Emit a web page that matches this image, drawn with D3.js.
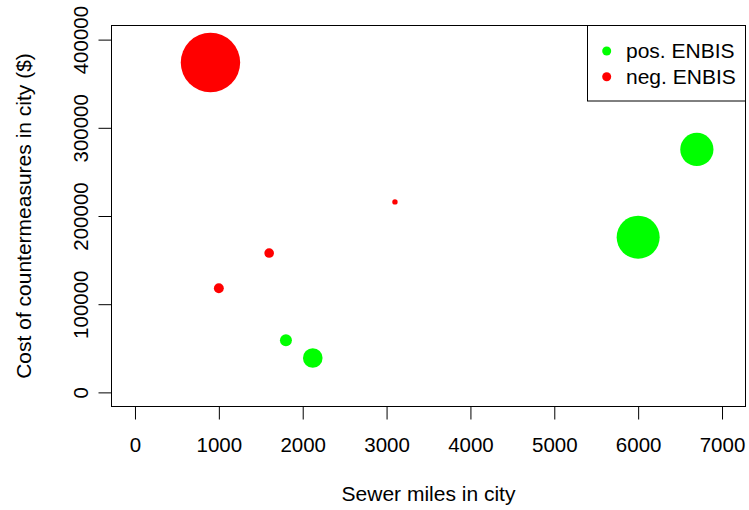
<!DOCTYPE html>
<html>
<head>
<meta charset="utf-8">
<script src="https://cdn.jsdelivr.net/npm/d3@7"></script>
<style>
  body { margin: 0; background: #fff; }
  text { font-family: "Liberation Sans", Arial, sans-serif; fill: #000; }
</style>
</head>
<body>
<svg id="chart" width="749" height="510"></svg>
<script>
// sewer miles / cost of countermeasures / point size (cex) / sign of ENBIS
const sewerMiles = [900, 1000, 1600, 3100, 1800, 2120, 6000, 6700];
const costs = [374000, 118000, 158000, 216000, 59000, 39000, 176000, 275500];
const pointCex = [6.6, 1.1, 1.07, 0.6, 1.33, 2.18, 4.78, 3.69];
const enbisSign = ['neg', 'neg', 'neg', 'neg', 'pos', 'pos', 'pos', 'pos'];

const xTicks = [0, 1000, 2000, 3000, 4000, 5000, 6000, 7000];
const yTicks = [0, 100000, 200000, 300000, 400000];
const legendLabels = ['pos. ENBIS', 'neg. ENBIS'];
const legendKeys = ['pos', 'neg'];

const colors = { pos: '#00ff00', neg: '#ff0000' };

const box = { left: 111.5, right: 745.5, top: 25.5, bottom: 406.5 };
const tickFont = 20.5;
const titleFont = 21;

const svg = d3.select('#chart');

const x = d3.scaleLinear().domain([-280, 7280]).range([box.left, box.right]);
const y = d3.scaleLinear().domain([-16000, 416000]).range([box.bottom, box.top]);
const r = d3.scaleLinear().domain([0, 1]).range([0, 4.5]);

// plot box
svg.append('rect')
  .attr('x', box.left).attr('y', box.top)
  .attr('width', box.right - box.left).attr('height', box.bottom - box.top)
  .attr('fill', 'none').attr('stroke', '#000').attr('stroke-width', 1);

// x axis
const xAxis = d3.axisBottom(x).tickValues(xTicks).tickSize(13).tickPadding(18)
  .tickFormat(d3.format('d'));
const gx = svg.append('g').attr('transform', `translate(0,${box.bottom})`).call(xAxis);
gx.select('.domain').remove();
gx.selectAll('line').attr('stroke', '#000');
gx.selectAll('text').style('font-size', tickFont + 'px')
  .style('font-family', '"Liberation Sans", Arial, sans-serif').attr('fill', '#000');

// y axis (labels rotated like R's default)
const yAxis = d3.axisLeft(y).tickValues(yTicks).tickSize(13).tickFormat(d3.format('d'));
const gy = svg.append('g').attr('transform', `translate(${box.left},0)`).call(yAxis);
gy.select('.domain').remove();
gy.selectAll('line').attr('stroke', '#000');
gy.selectAll('text')
  .attr('x', null).attr('dy', null)
  .attr('text-anchor', 'middle')
  .attr('transform', 'translate(-31,0) rotate(-90)')
  .attr('dy', '0.35em')
  .style('font-size', tickFont + 'px')
  .style('font-family', '"Liberation Sans", Arial, sans-serif').attr('fill', '#000');

// axis titles
svg.append('text')
  .attr('x', (box.left + box.right) / 2).attr('y', 494)
  .attr('dy', '0.35em').attr('text-anchor', 'middle')
  .style('font-size', titleFont + 'px')
  .text('Sewer miles in city');

svg.append('text')
  .attr('transform', `translate(24,${(box.top + box.bottom) / 2}) rotate(-90)`)
  .attr('dy', '0.35em').attr('text-anchor', 'middle')
  .style('font-size', titleFont + 'px')
  .text('Cost of countermeasures in city ($)');

// points
svg.append('g').selectAll('circle')
  .data(sewerMiles.map((d, i) => ({ x: d, y: costs[i], cex: pointCex[i], s: enbisSign[i] })))
  .join('circle')
  .attr('cx', d => x(d.x))
  .attr('cy', d => y(d.y))
  .attr('r', d => r(d.cex))
  .attr('fill', d => colors[d.s]);

// legend
const lg = svg.append('g');
lg.append('rect')
  .attr('x', 587.5).attr('y', box.top)
  .attr('width', box.right - 587.5).attr('height', 101 - box.top)
  .attr('fill', '#fff').attr('stroke', '#000').attr('stroke-width', 1);
legendLabels.forEach((lab, i) => {
  const cy = 51 + i * 25.7;
  lg.append('circle').attr('cx', 606.7).attr('cy', cy).attr('r', r(1))
    .attr('fill', colors[legendKeys[i]]);
  lg.append('text').attr('x', 626).attr('y', cy).attr('dy', '0.35em')
    .style('font-size', titleFont + 'px').text(lab);
});
</script>
</body>
</html>
